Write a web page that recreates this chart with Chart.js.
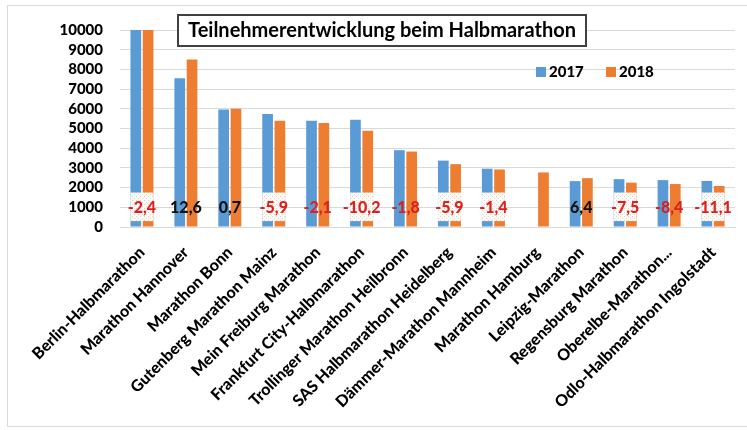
<!DOCTYPE html>
<html>
<head>
<meta charset="utf-8">
<script src="https://cdn.jsdelivr.net/npm/chart.js@4.4.1/dist/chart.umd.min.js"></script>
<style>
  html, body { margin: 0; padding: 0; background: #fff; }
  #frame { position: absolute; left: 7px; top: 5px; width: 760px; height: 422px;
           border: 1px solid #d9d9d9; box-sizing: border-box; }
  #wrap { position: absolute; left: 0; top: 0; width: 747px; height: 430px; }
</style>
</head>
<body>
<div id="frame"></div>
<div id="wrap"><canvas id="chart" width="747" height="430"></canvas></div>
<script>
// data
var categories = ['Berlin-Halbmarathon', 'Marathon Hannover', 'Marathon Bonn', 'Gutenberg Marathon Mainz',
  'Mein Freiburg Marathon', 'Frankfurt City-Halbmarathon', 'Trollinger Marathon Heilbronn',
  'SAS Halbmarathon Heidelberg', 'Dämmer-Marathon Mannheim', 'Marathon Hamburg', 'Leipzig-Marathon',
  'Regensburg Marathon', 'Oberelbe-Marathon...', 'Odlo-Halbmarathon Ingolstadt'];
var seriesNames = ['2017', '2018'];
var values2017 = [10000, 7550, 5960, 5730, 5390, 5440, 3900, 3370, 2960, null, 2330, 2430, 2380, 2340];
var values2018 = [10000, 8500, 6000, 5390, 5280, 4890, 3830, 3190, 2920, 2770, 2480, 2250, 2180, 2080];
var changeLabels = ['-2,4', '12,6', '0,7', '-5,9', '-2,1', '-10,2', '-1,8', '-5,9', '-1,4', '', '6,4', '-7,5', '-8,4', '-11,1'];
var labelBoxed = [true, false, false, true, false, true, false, true, true, false, false, true, false, true];
var yMax = 10000, yStep = 1000;

var FONT = 'Lato, "Open Sans", sans-serif';
var W = '900';
var BLUE = '#5b9bd5', ORANGE = '#ed7d31', RED = '#dc1f1f';

// dotted fill for the label boxes
function makePattern(ctx) {
  var c = document.createElement('canvas');
  c.width = 4; c.height = 4;
  var p = c.getContext('2d');
  p.fillStyle = '#fcfaf5';
  p.fillRect(0, 0, 4, 4);
  p.fillStyle = '#e3d3ba';
  p.fillRect(0, 0, 1, 1);
  p.fillStyle = '#cfdbe8';
  p.fillRect(2, 2, 1, 1);
  return ctx.createPattern(c, 'repeat');
}

var changePlugin = {
  id: 'changeLabels',
  afterDatasetsDraw: function(chart) {
    var ctx = chart.ctx;
    var y = chart.scales.y;
    var m0 = chart.getDatasetMeta(0), m1 = chart.getDatasetMeta(1);
    var pat = makePattern(ctx);
    ctx.save();
    ctx.font = W + ' 16px ' + FONT;
    ctx.textAlign = 'center';
    ctx.textBaseline = 'middle';
    changeLabels.forEach(function(txt, i) {
      if (!txt) return;
      var cx = chart.scales.x.getPixelForValue(i);
      if (labelBoxed[i]) {
        var b1 = m1.data[i];
        var left = m0.data[i].x - m0.data[i].width / 2;
        var right = b1.x + b1.width / 2;
        var top = y.getPixelForValue(1750), bot = y.getPixelForValue(300);
        ctx.fillStyle = pat;
        ctx.fillRect(left, top, right - left, bot - top);
      }
      ctx.fillStyle = txt.charAt(0) === '-' ? RED : '#111';
      ctx.fillText(txt, cx, y.getPixelForValue(1000) + 1);
    });
    ctx.restore();
  },
  afterDraw: function(chart) {
    var ctx = chart.ctx;
    ctx.save();
    // title box
    ctx.fillStyle = '#fff';
    ctx.fillRect(178, 15, 408, 31);
    ctx.strokeStyle = '#404040';
    ctx.lineWidth = 2;
    ctx.strokeRect(178, 15, 408, 31);
    ctx.fillStyle = '#000';
    ctx.font = 'bold 20px ' + FONT;
    ctx.textAlign = 'center';
    ctx.textBaseline = 'middle';
    ctx.fillText('Teilnehmerentwicklung beim Halbmarathon', 382, 31);
    // legend
    ctx.font = W + ' 15px ' + FONT;
    ctx.textAlign = 'left';
    var lx = [536, 606], cols = [BLUE, ORANGE];
    seriesNames.forEach(function(n, k) {
      ctx.fillStyle = cols[k];
      ctx.fillRect(lx[k], 67, 10, 10);
      ctx.fillStyle = '#000';
      ctx.fillText(n, lx[k] + 13, 72);
    });
    ctx.restore();
  }
};

new Chart(document.getElementById('chart'), {
  type: 'bar',
  data: {
    labels: categories,
    datasets: [
      { label: seriesNames[0], data: values2017, backgroundColor: BLUE },
      { label: seriesNames[1], data: values2018, backgroundColor: ORANGE }
    ]
  },
  options: {
    responsive: false,
    animation: false,
    categoryPercentage: 0.56,
    barPercentage: 0.87,
    layout: { padding: { left: 10, right: 12, top: 30, bottom: 12 } },
    plugins: { legend: { display: false }, tooltip: { enabled: false } },
    scales: {
      y: {
        min: 0, max: yMax,
        afterFit: function(s) { s.width = 110; },
        grid: { color: '#d9d9d9', drawTicks: false },
        border: { display: false },
        ticks: { stepSize: yStep, autoSkip: false, padding: 17, color: '#000',
                 callback: function(v) { return String(v); },
                 font: { family: FONT, weight: W, size: 15 } }
      },
      x: {
        afterFit: function(s) { s.height = 191; },
        grid: { display: false },
        border: { color: '#d9d9d9', width: 1 },
        ticks: { minRotation: 45, maxRotation: 45, autoSkip: false, padding: 8, color: '#000',
                 font: { family: FONT, weight: W, size: 16 } }
      }
    }
  },
  plugins: [changePlugin]
});
</script>
</body>
</html>
